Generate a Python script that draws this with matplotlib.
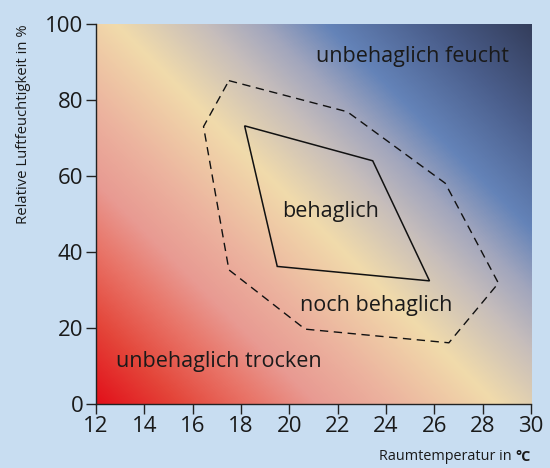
import numpy as np
import matplotlib
matplotlib.use("Agg")
import matplotlib.pyplot as plt
from matplotlib.colors import LinearSegmentedColormap

plt.rcParams['font.family'] = ['Open Sans', 'DejaVu Sans']

# Data
x_ticks = [12, 14, 16, 18, 20, 22, 24, 26, 28, 30]
y_ticks = [0, 20, 40, 60, 80, 100]

behaglich_T = [18.15, 23.45, 25.8, 19.5]
behaglich_RH = [73.2, 64.0, 32.4, 36.2]

noch_T = [17.5, 22.4, 26.45, 28.65, 26.6, 20.65, 17.5, 16.45]
noch_RH = [85.1, 76.9, 58.1, 31.8, 16.1, 19.7, 35.3, 73.0]

labels = ["unbehaglich feucht", "behaglich", "noch behaglich", "unbehaglich trocken"]
label_T = [25.1, 21.7, 23.6, 17.1]
label_RH = [91.4, 50.6, 26.0, 11.3]

bg = '#c8ddf1'
fig = plt.figure(figsize=(5.5, 4.68), dpi=100, facecolor=bg)
ax = fig.add_axes([0.1745, 0.1368, 0.791, 0.8119])
ax.set_xlim(12, 30)
ax.set_ylim(0, 100)

# Background gradient (diagonal)
cmap = LinearSegmentedColormap.from_list('comfort', [
    (0.0, '#e2101a'), (0.1, '#e4463a'), (0.2, '#e9786c'), (0.27, '#e89a92'),
    (0.36, '#ecb29e'), (0.49, '#f1dbab'), (0.6, '#c6bdbb'), (0.67, '#a2a6bd'),
    (0.75, '#6483b8'), (0.87, '#4b5f8d'), (1.0, '#343e5c')])
fx, fy = np.meshgrid(np.linspace(0, 1, 400), np.linspace(0, 1, 400))
t = (fx * 435 + fy * 380) / 815
ax.imshow(t, cmap=cmap, origin='lower', extent=(12, 30, 0, 100), aspect='auto',
          interpolation='bilinear', zorder=0)

ax.fill(behaglich_T, behaglich_RH, facecolor='none', edgecolor='#111111', lw=1.1, zorder=2)
ax.fill(noch_T, noch_RH, facecolor='none', edgecolor='#111111', lw=1.0,
        linestyle=(0, (6, 4)), zorder=2)

for s, x, y in zip(labels, label_T, label_RH):
    ax.text(x, y, s, ha='center', va='center', fontsize=15.5, color='#1a1a1a', zorder=3)

ax.set_xticks(x_ticks)
ax.set_yticks(y_ticks)
ax.tick_params(axis='both', labelsize=16, length=7, width=1, color='#222222',
               labelcolor='#1a1a1a', pad=2)
for sp in ['top', 'right']:
    ax.spines[sp].set_visible(False)
for sp in ['left', 'bottom']:
    ax.spines[sp].set_color('#222222')
    ax.spines[sp].set_linewidth(1.0)

ax.set_xlabel("")
ax.set_ylabel("Relative Luftfeuchtigkeit in %", fontsize=10.7, color='#1a1a1a', loc='top')
ax.yaxis.set_label_coords(-0.15, 1.0)

fig.text(0.965, 0.008, "Raumtemperatur in ", ha='right', va='bottom', fontsize=10.4, color='#1a1a1a')
t1 = fig.text(0.965, 0.008, "°C", ha='right', va='bottom', fontsize=10.4, fontweight='bold', color='#1a1a1a')
fig.canvas.draw()
r = fig.canvas.get_renderer()
bb = t1.get_window_extent(r)
w = bb.width / fig.bbox.width
fig.texts[0].set_position((0.965 - w, 0.008))

fig.savefig('out.png', dpi=100, facecolor=bg)
